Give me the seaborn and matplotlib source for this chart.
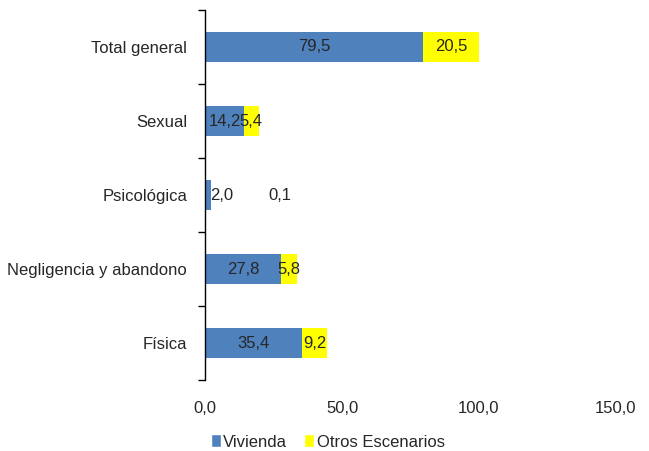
import matplotlib
matplotlib.use("Agg")
import matplotlib.pyplot as plt
import numpy as np
import pandas as pd
import seaborn as sns
from matplotlib.patches import Patch

categories = ["Total general", "Sexual", "Psicológica", "Negligencia y abandono", "Física"]
vivienda = [79.5, 14.2, 2.0, 27.8, 35.4]
otros = [20.5, 5.4, 0.1, 5.8, 9.2]
xticks = [0, 50, 100, 150]

BLUE = "#4F81BD"
YELLOW = "#FFFF00"
FS = 12

sns.set_style("white")
plt.rcParams["font.family"] = ["Liberation Sans", "DejaVu Sans"]

df = pd.DataFrame({"cat": categories, "viv": vivienda, "otros": otros})
df["total"] = df["viv"] + df["otros"]

fig = plt.figure(figsize=(6.49, 4.51), dpi=100)
ax = fig.add_axes([0.316, 0.157, 0.633, 0.821])

sns.barplot(data=df, x="total", y="cat", orient="h", color=YELLOW,
            width=0.41, saturation=1, linewidth=0, ax=ax)
sns.barplot(data=df, x="viv", y="cat", orient="h", color=BLUE,
            width=0.41, saturation=1, linewidth=0, ax=ax)

# value labels, centred in each segment (tiny segments pushed outside)
for i, (v, o) in enumerate(zip(vivienda, otros)):
    if v < 5:
        xv, xo = 6.2, 27.4
    else:
        xv, xo = v / 2, v + o / 2
    ax.text(xv, i, f"{v:.1f}".replace(".", ","), ha="center", va="center", fontsize=FS)
    ax.text(xo, i, f"{o:.1f}".replace(".", ","), ha="center", va="center", fontsize=FS)

ax.set_xlim(0, 150)
ax.set_xticks(xticks)
ax.set_xticklabels([f"{t:.1f}".replace(".", ",") for t in xticks], fontsize=FS)
ax.tick_params(axis="x", length=0, pad=15)

n = len(categories)
ax.set_ylim(n - 0.5, -0.5)
ax.set_yticks(np.arange(-0.5, n, 1.0))
ax.set_yticklabels([])
ax.set_yticks(np.arange(n), minor=True)
ax.set_yticklabels(categories, minor=True, fontsize=FS)
ax.tick_params(axis="y", which="major", left=True, length=5, width=1, color="black", direction="out")
ax.tick_params(axis="y", which="minor", left=False, length=0, pad=13)

ax.set_xlabel("")
ax.set_ylabel("")
for s in ["top", "right", "bottom"]:
    ax.spines[s].set_visible(False)
ax.spines["left"].set_color("black")
ax.spines["left"].set_linewidth(1)

handles = [Patch(facecolor=BLUE, label="Vivienda"), Patch(facecolor=YELLOW, label="Otros Escenarios")]
fig.legend(handles=handles, loc="lower center", bbox_to_anchor=(0.505, -0.03), ncol=2,
           frameon=False, fontsize=FS, handlelength=0.6, handleheight=0.8,
           handletextpad=0.15, columnspacing=1.0)

fig.savefig("out.png", dpi=100)
